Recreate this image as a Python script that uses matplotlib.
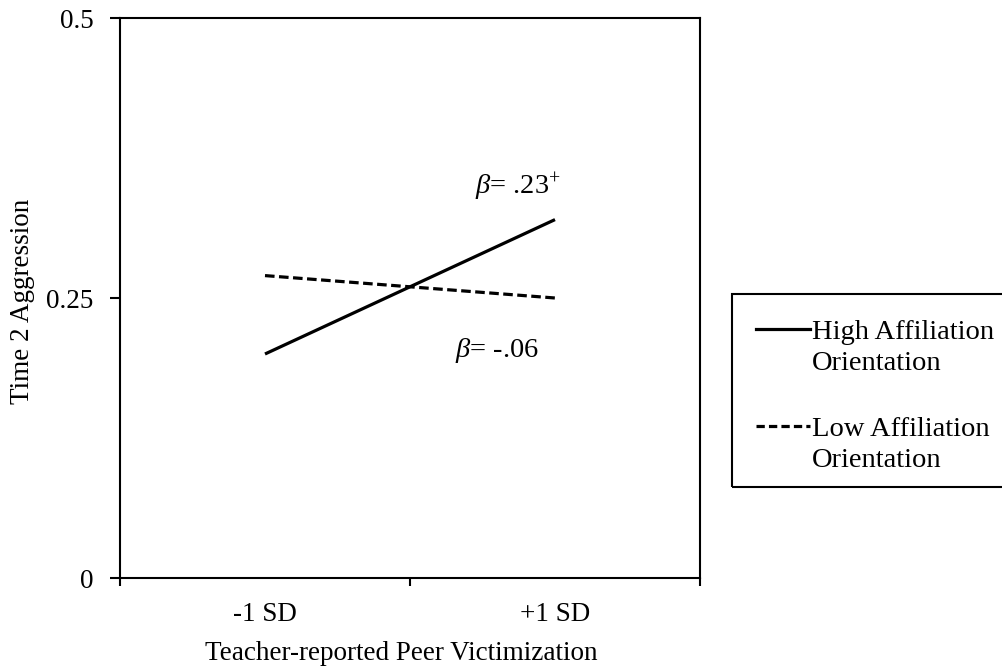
import matplotlib
matplotlib.use("Agg")
import matplotlib.pyplot as plt
from matplotlib.lines import Line2D
from matplotlib.patches import Rectangle

plt.rcParams['font.family'] = ['Liberation Serif', 'DejaVu Serif']
plt.rcParams['mathtext.fontset'] = 'custom'
plt.rcParams['mathtext.rm'] = 'Liberation Serif'
plt.rcParams['mathtext.it'] = 'Liberation Serif:italic'

# simple slopes at -1 SD / +1 SD of peer victimization
levels = ['-1 SD', '+1 SD']
high_affil = [0.20, 0.32]
low_affil = [0.27, 0.25]
series_names = ['High Affiliation\nOrientation', 'Low Affiliation\nOrientation']
slope_high = r'$\beta$= .23$^{+}$'
slope_low = r'$\beta$= -.06'
y_ticks = [0, 0.25, 0.5]
y_ticklabels = ['0', '0.25', '0.5']

W, H = 1003, 672
FS = 19.5
FS_NOTE = 20.5
LW = 2.3
dash_plot = (0, (3.0, 1.4))

fig = plt.figure(figsize=(W / 100, H / 100), dpi=100)
ax = fig.add_axes([120 / W, 1 - 578 / H, 580 / W, 560 / H])

xpos = [0.5, 1.5]
ax.plot(xpos, high_affil, color='black', lw=LW, solid_capstyle='butt')
ax.plot(xpos, low_affil, color='black', lw=LW, linestyle=dash_plot,
        dash_capstyle='butt')

ax.set_xlim(0, 2)
ax.set_ylim(0, 0.5)
ax.set_yticks(y_ticks)
ax.set_yticklabels(y_ticklabels, fontsize=FS)
ax.set_xticks([0, 1, 2])
ax.set_xticklabels([])
ax.set_xticks(xpos, minor=True)
ax.set_xticklabels(levels, minor=True, fontsize=FS)
ax.tick_params(axis='x', which='major', direction='out', length=6, width=1.5)
ax.tick_params(axis='x', which='minor', length=0, pad=17)
ax.tick_params(axis='y', direction='out', length=7, width=1.5, pad=12)
for sp in ax.spines.values():
    sp.set_linewidth(1.5)

ax.text(1.224, 0.349, slope_high, fontsize=FS_NOTE, ha='left', va='center')
ax.text(1.155, 0.203, slope_low, fontsize=FS_NOTE, ha='left', va='center')

fig.text(23 / W, 1 - 301 / H, 'Time 2 Aggression', rotation=90,
         fontsize=FS, ha='center', va='center')
fig.text(401 / W, 1 - 654 / H, 'Teacher-reported Peer Victimization',
         fontsize=FS, ha='center', va='center')

# legend box drawn by hand so each handle sits on the first text line
fig.patches.append(Rectangle((732 / W, 1 - 487 / H), 290 / W, 193 / H,
                             transform=fig.transFigure, fill=False,
                             edgecolor='black', lw=1.5))
handle_y = [329, 426]
styles = ['-', (0, (2.6, 1.3))]
for name, yy, ls in zip(series_names, handle_y, styles):
    fig.add_artist(Line2D([756 / W, 810 / W], [1 - yy / H] * 2,
                          transform=fig.transFigure, color='black', lw=LW,
                          linestyle=ls, dash_capstyle='butt'))
    fig.text(812 / W, 1 - (yy - 9) / H, name, fontsize=FS_NOTE, ha='left',
             va='top', linespacing=1.3)

fig.savefig('out.png', dpi=100)
